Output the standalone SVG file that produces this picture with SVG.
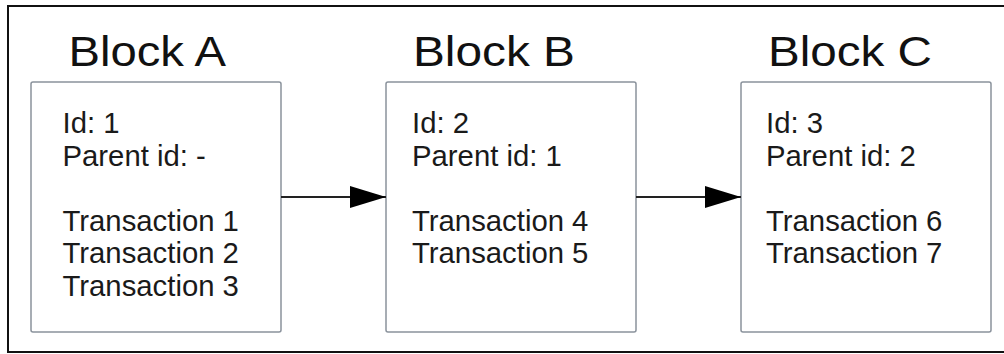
<svg xmlns="http://www.w3.org/2000/svg" width="1004" height="354" viewBox="0 0 1004 354">
<style>
.frame{fill:#ffffff;stroke:#111111;stroke-width:2}
.box{fill:#ffffff;stroke:#8a929c;stroke-width:1.5}
.title{font-family:"Liberation Sans",Arial,sans-serif;font-size:43px;fill:#111111}
.body{font-family:"Liberation Sans",Arial,sans-serif;font-size:29.3px;fill:#1a1a1a}
.conn{stroke:#222222;stroke-width:2.2;fill:none}
</style>
<defs>
<marker id="arrow" viewBox="0 0 36 22" refX="36" refY="11" markerWidth="36" markerHeight="22" markerUnits="userSpaceOnUse" orient="auto">
<path d="M0,0 L36,11 L0,22 Z" fill="#000000"/>
</marker>
</defs>
<rect class="frame" x="8" y="6" width="1010" height="346"/>
<g id="blockA">
<text class="title" x="68.5" y="66" textLength="157.5" lengthAdjust="spacingAndGlyphs">Block A</text>
<rect class="box" x="31" y="82" width="250" height="250" rx="2"/>
<text class="body" x="62.5" y="133">Id: 1</text>
<text class="body" x="62.5" y="165.5">Parent id: -</text>
<text class="body" x="62.5" y="230.5">Transaction 1</text>
<text class="body" x="62.5" y="263">Transaction 2</text>
<text class="body" x="62.5" y="295.5">Transaction 3</text>
</g>
<g id="blockB">
<text class="title" x="413" y="66" textLength="162" lengthAdjust="spacingAndGlyphs">Block B</text>
<rect class="box" x="386" y="82" width="250" height="250" rx="2"/>
<text class="body" x="412" y="133">Id: 2</text>
<text class="body" x="412" y="165.5">Parent id: 1</text>
<text class="body" x="412" y="230.5">Transaction 4</text>
<text class="body" x="412" y="263">Transaction 5</text>
</g>
<g id="blockC">
<text class="title" x="768" y="66" textLength="164" lengthAdjust="spacingAndGlyphs">Block C</text>
<rect class="box" x="741" y="82" width="250" height="250" rx="2"/>
<text class="body" x="766" y="133">Id: 3</text>
<text class="body" x="766" y="165.5">Parent id: 2</text>
<text class="body" x="766" y="230.5">Transaction 6</text>
<text class="body" x="766" y="263">Transaction 7</text>
</g>
<g id="connectors">
<line class="conn" x1="281" y1="197" x2="386" y2="197" marker-end="url(#arrow)"/>
<line class="conn" x1="636" y1="197" x2="741" y2="197" marker-end="url(#arrow)"/>
</g>
</svg>
